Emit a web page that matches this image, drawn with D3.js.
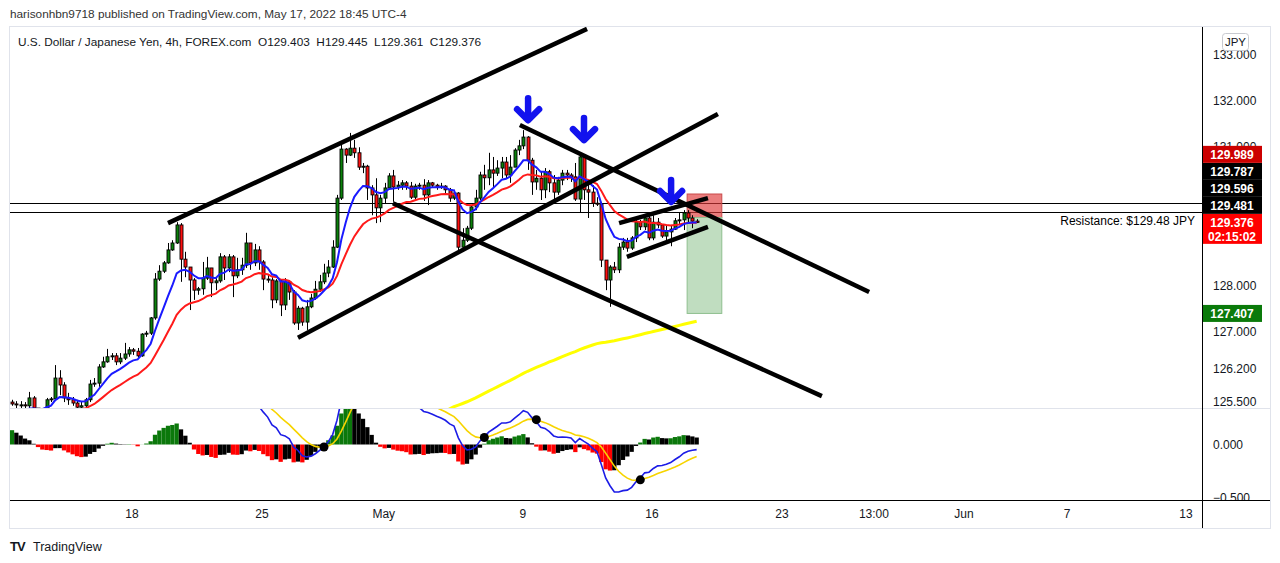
<!DOCTYPE html>
<html><head><meta charset="utf-8">
<script src="https://cdn.jsdelivr.net/npm/d3@7/dist/d3.min.js"></script>
<style>
html,body{margin:0;padding:0;background:#fff;}
svg{display:block;font-family:"Liberation Sans",Arial,sans-serif;}
text{white-space:pre;}
</style></head><body>
<svg id="c" width="1280" height="563"></svg>
<script>
// ---------- data (USD/JPY 4h, FOREX.com) ----------
const firstOpen = 125.49;
const closes = [125.45,125.43,125.43,125.41,125.58,125.36,125.30,125.32,125.54,125.56,
126.01,125.86,125.58,125.54,125.47,125.38,125.41,125.54,125.88,125.90,
126.25,126.36,126.47,126.49,126.36,126.44,126.53,126.62,126.59,126.49,
126.96,126.98,127.31,128.15,128.32,128.50,128.78,128.93,129.32,128.58,
128.41,128.13,127.91,127.94,128.17,128.39,128.07,128.11,128.63,128.39,
128.63,128.22,128.35,128.45,128.93,128.50,128.78,128.52,128.15,128.13,
127.70,128.11,127.59,128.09,127.87,127.20,127.52,127.22,127.55,127.74,
127.93,128.09,128.28,128.41,128.84,129.90,130.96,130.83,130.98,130.88,
130.57,130.59,130.12,129.97,129.69,129.90,130.12,130.38,130.14,130.18,
130.23,130.16,129.92,130.16,130.18,129.97,130.23,130.18,130.14,130.16,
130.08,129.90,130.01,128.84,128.99,129.25,129.71,129.90,130.40,130.34,
130.51,130.44,130.55,130.68,130.40,130.57,130.94,131.03,131.22,130.72,
130.25,130.33,130.08,130.47,130.23,130.03,130.29,130.44,130.40,130.36,
129.88,130.79,130.08,130.03,129.79,129.77,128.56,128.13,128.41,128.35,
128.84,128.95,128.82,129.04,129.38,129.28,129.47,129.04,129.38,129.32,
129.08,129.17,129.23,129.41,129.43,129.58,129.47,129.403,129.376];
const highs = [125.54,125.51,125.51,125.49,125.71,125.62,125.34,125.36,125.58,125.60,
126.29,126.18,125.92,125.69,125.60,125.54,125.51,125.58,125.97,126.01,
126.31,126.47,126.64,126.55,126.55,126.55,126.77,126.68,126.66,126.66,
126.98,127.03,127.33,128.28,128.45,128.54,128.93,128.99,129.38,129.36,
128.74,128.39,128.17,127.98,128.52,128.63,128.39,128.17,128.71,128.67,
128.69,128.67,128.61,128.61,129.15,128.93,128.91,128.86,128.56,128.24,
128.19,128.15,128.15,128.17,128.09,127.91,127.57,127.55,127.70,127.83,
128.11,128.24,128.48,128.56,128.99,129.97,131.05,130.98,131.31,131.16,
131.00,130.66,130.62,130.18,130.33,129.97,130.23,130.44,130.51,130.27,
130.29,130.27,130.25,130.21,130.23,130.31,130.29,130.25,130.21,130.23,
130.18,130.12,130.08,130.03,129.25,129.30,129.75,130.08,130.47,130.62,
130.88,130.79,130.72,130.79,130.79,130.83,130.98,131.16,131.37,131.24,
130.77,130.51,130.47,130.55,130.51,130.40,130.36,130.51,130.51,130.44,
130.66,130.83,130.79,130.29,130.18,129.92,129.82,128.52,128.45,128.52,
128.93,129.04,129.04,129.08,129.49,129.43,129.56,129.53,129.53,129.47,
129.32,129.32,129.32,129.47,129.60,129.64,129.64,129.53,129.445];
const lows = [125.41,125.36,125.34,125.32,125.32,125.28,125.23,125.25,125.30,125.49,
125.54,125.64,125.49,125.43,125.41,125.34,125.32,125.36,125.49,125.82,
125.82,126.23,126.34,126.40,126.29,126.31,126.40,126.47,126.51,126.44,
126.47,126.90,126.94,127.27,128.11,128.28,128.48,128.76,128.91,128.09,
128.19,127.48,127.70,127.81,127.81,128.13,127.76,127.91,128.07,128.13,
128.30,127.76,128.17,128.24,128.39,128.35,128.43,128.35,127.91,128.07,
127.52,127.63,127.35,127.48,127.70,127.16,127.05,127.14,127.05,127.52,
127.70,127.87,128.04,128.19,128.39,128.82,129.86,130.66,130.81,130.77,
130.51,130.44,129.86,129.53,129.36,129.38,129.79,130.08,129.82,130.08,
130.08,130.08,129.88,129.88,130.08,129.84,129.75,130.12,130.08,130.10,
130.01,129.82,129.86,128.69,128.74,128.95,129.21,129.64,129.86,130.08,
130.18,130.14,130.38,130.33,130.33,130.23,130.62,130.83,130.96,130.51,
129.97,130.08,129.86,129.90,130.03,129.86,129.97,130.18,130.29,130.25,
129.84,129.60,129.86,129.47,129.71,129.73,128.41,127.91,127.55,128.28,
128.28,128.78,128.74,128.78,128.95,129.21,129.21,128.99,128.99,129.25,
129.04,128.99,128.86,129.21,129.32,129.21,129.38,129.25,129.361];

// indicator starting values (state before the first visible bar)
const ema9Seed = 125.1, ema21Seed = 124.6, ema200Seed = 119.8;
const macdFastSeed = 124.52, macdSlowSeed = 123.77, signalSeed = 0.6, histSeed = 0.12;

// visible price-scale labels (130.000 and 129.000 are hidden behind price marks in the original)
const priceTicks = [133, 132, 131, 128, 127, 126.2, 125.5];
const macdTicks = [0, -0.5];
const timeTickLabels = ["18", "25", "May", "9", "16", "23", "13:00", "Jun", "7", "13"];
const timeTickBars = [27.7, 57.7, 85.8, 117.9, 147.7, 177.7, 198.9, 219.7, 243.5, 270.9];

const levelLines = [129.787, 129.596];
const markPrices = [129.989, 129.787, 129.596, 129.481, 129.376];
const markColors = ["#cc0000", "#000000", "#000000", "#000000", "#ff0000"];
const countdown = "02:15:02";
const resistancePrice = 129.481;
const entryPrice = 129.481, stopPrice = 129.989, targetPrice = 127.407;
const positionBars = [155.8, 163.8];

// drawn trend lines: [bar1, price1, bar2, price2]
const trendLines = [
  [36.0, 129.36, 132.7, 133.56],
  [66.0, 126.88, 162.9, 131.72],
  [87.9, 129.79, 186.9, 125.62],
  [117.2, 131.48, 197.8, 127.87],
  [140.1, 129.36, 160.6, 129.90],
  [141.9, 128.63, 160.6, 129.28]
];
// down arrows: tip at [bar, price]
const arrowTips = [[119.1, 131.52], [132.0, 131.09], [152.1, 129.75]];

// ---------- layout ----------
const svg = d3.select("#c");
const paneL = 10, paneR = 1202, mainT = 27, mainB = 408, macdB = 500, outerR = 1270, outerB = 528;
const x = d3.scaleLinear().domain([0, 270]).range([12, 12 + 270 * 4.3333]);
const y = d3.scaleLinear().domain([128, 132]).range([286, 101]);
const yM = d3.scaleLinear().domain([-0.5, 0]).range([497.5, 444.5]);

// ---------- indicators ----------
function ema(vals, n, seed) { const k = 2 / (n + 1); let e = seed; return vals.map(v => (e = e + k * (v - e))); }
const opens = closes.map((c, i) => i === 0 ? firstOpen : closes[i - 1]);
const e9 = ema(closes, 9, ema9Seed), e21 = ema(closes, 21, ema21Seed), e200 = ema(closes, 200, ema200Seed);
const m12 = ema(closes, 12, macdFastSeed), m26 = ema(closes, 26, macdSlowSeed);
const macd = m12.map((v, i) => v - m26[i]);
const signal = ema(macd, 9, signalSeed);
const hist = macd.map((v, i) => v - signal[i]);

// ---------- frame ----------
const defs = svg.append("defs");
defs.append("clipPath").attr("id", "mainClip").append("rect").attr("x", paneL).attr("y", mainT).attr("width", paneR - paneL).attr("height", mainB - mainT);
defs.append("clipPath").attr("id", "macdClip").append("rect").attr("x", paneL).attr("y", mainB).attr("width", paneR - paneL).attr("height", macdB - mainB - 1);
defs.append("clipPath").attr("id", "axMainClip").append("rect").attr("x", paneR).attr("y", mainT).attr("width", outerR - paneR).attr("height", mainB - mainT);
defs.append("clipPath").attr("id", "axMacdClip").append("rect").attr("x", paneR).attr("y", mainB).attr("width", outerR - paneR).attr("height", macdB - mainB);

svg.append("text").attr("x", 10).attr("y", 18).attr("font-size", 11.8).attr("fill", "#333")
  .text("harisonhbn9718 published on TradingView.com, May 17, 2022 18:45 UTC-4");
svg.append("rect").attr("x", 9.5).attr("y", 26.5).attr("width", outerR - 9).attr("height", outerB - 26).attr("fill", "#fff").attr("stroke", "#e0e3eb");

const main = svg.append("g").attr("clip-path", "url(#mainClip)");
const mp = svg.append("g").attr("clip-path", "url(#macdClip)");

// level lines
main.selectAll(".lvl").data(levelLines).join("line")
  .attr("x1", paneL).attr("x2", paneR).attr("y1", d => Math.round(y(d)) + 0.5).attr("y2", d => Math.round(y(d)) + 0.5)
  .attr("stroke", "#000").attr("stroke-width", 1);

// position tool
const pX1 = x(positionBars[0]), pX2 = x(positionBars[1]);
main.append("rect").attr("x", pX1).attr("width", pX2 - pX1).attr("y", y(stopPrice)).attr("height", y(entryPrice) - y(stopPrice))
  .attr("fill", "rgba(222,55,55,0.65)").attr("stroke", "#c94a4a").attr("stroke-width", 1);
main.append("rect").attr("x", pX1).attr("width", pX2 - pX1).attr("y", y(entryPrice)).attr("height", y(targetPrice) - y(entryPrice))
  .attr("fill", "rgba(90,165,90,0.38)").attr("stroke", "#8fbf8f").attr("stroke-width", 1);

// EMA 200 (yellow)
main.append("path").datum(e200).attr("fill", "none").attr("stroke", "#ffff00").attr("stroke-width", 3)
  .attr("d", d3.line().x((d, i) => x(i)).y(d => y(d)));

// candles
const cg = main.append("g");
closes.forEach((c, i) => {
  const o = opens[i], h = Math.max(highs[i], o, c), l = Math.min(lows[i], o, c);
  const cx = Math.round(x(i)) + 0.5;
  cg.append("line").attr("x1", cx).attr("x2", cx).attr("y1", y(h)).attr("y2", y(l)).attr("stroke", "#000").attr("stroke-width", 1);
  const top = y(Math.max(o, c)), bot = y(Math.min(o, c));
  cg.append("rect").attr("x", cx - 1.5).attr("width", 3).attr("y", top).attr("height", Math.max(1, bot - top))
    .attr("fill", c >= o ? "#0b820b" : "#ff1010").attr("stroke", "#000").attr("stroke-width", 0.9);
});

// EMAs
main.append("path").datum(e21).attr("fill", "none").attr("stroke", "#ff1a1a").attr("stroke-width", 2)
  .attr("d", d3.line().x((d, i) => x(i)).y(d => y(d)));
main.append("path").datum(e9).attr("fill", "none").attr("stroke", "#1a1aff").attr("stroke-width", 2)
  .attr("d", d3.line().x((d, i) => x(i)).y(d => y(d)));

// trend lines
main.selectAll(".tl").data(trendLines).join("line")
  .attr("x1", d => x(d[0])).attr("y1", d => y(d[1])).attr("x2", d => x(d[2])).attr("y2", d => y(d[3]))
  .attr("stroke", "#000").attr("stroke-width", 4.5).attr("stroke-linecap", "butt");

// arrows
arrowTips.forEach(a => {
  const tx = x(a[0]), ty = y(a[1]);
  const g = main.append("g").attr("transform", `translate(${tx},${ty})`)
    .attr("stroke", "#1212ee").attr("stroke-width", 6.5).attr("stroke-linecap", "round").attr("stroke-linejoin", "round").attr("fill", "none");
  g.append("line").attr("x1", 0).attr("y1", -25).attr("x2", 0).attr("y2", -4);
  g.append("path").attr("d", "M-11,-14 L0,-3 L11,-14");
});

// resistance text
main.append("text").attr("x", 1195).attr("y", y(resistancePrice) + 7).attr("text-anchor", "end")
  .attr("font-size", 12).attr("fill", "#000").text("Resistance: $129.48 JPY");

// legend
svg.append("text").attr("x", 18).attr("y", 46).attr("font-size", 11.8).attr("fill", "#131722")
  .text("U.S. Dollar / Japanese Yen, 4h, FOREX.com  O129.403  H129.445  L129.361  C129.376");

// ---------- MACD pane ----------
mp.selectAll(".h").data(hist).join("rect")
  .attr("x", (d, i) => x(i) - 2.15).attr("width", 4.3)
  .attr("y", d => Math.min(yM(0), yM(d))).attr("height", d => Math.abs(yM(d) - yM(0)))
  .attr("fill", (d, i) => {
    const p = i > 0 ? hist[i - 1] : histSeed;
    if (d >= 0) return d > p ? "#0b780b" : "#000";
    return d < p ? "#ff0000" : "#000";
  });
mp.append("path").datum(signal).attr("fill", "none").attr("stroke", "#f7d400").attr("stroke-width", 1.6)
  .attr("d", d3.line().x((d, i) => x(i)).y(d => yM(d)));
mp.append("path").datum(macd).attr("fill", "none").attr("stroke", "#1c1ce6").attr("stroke-width", 1.6)
  .attr("d", d3.line().x((d, i) => x(i)).y(d => yM(d)));
const crosses = hist.map((d, i) => i > 0 && Math.sign(d) !== Math.sign(hist[i - 1]) ? i : -1).filter(i => i >= 0);
mp.selectAll(".dot").data(crosses).join("circle").attr("cx", i => x(i)).attr("cy", i => yM(signal[i])).attr("r", 4.5).attr("fill", "#000");

// ---------- separators & axes ----------
svg.append("line").attr("x1", paneL).attr("x2", outerR).attr("y1", mainB + 0.5).attr("y2", mainB + 0.5).attr("stroke", "#e0e3eb");
svg.append("line").attr("x1", paneL).attr("x2", outerR).attr("y1", macdB + 0.5).attr("y2", macdB + 0.5).attr("stroke", "#000");
svg.append("line").attr("x1", paneR + 0.5).attr("x2", paneR + 0.5).attr("y1", mainT).attr("y2", outerB).attr("stroke", "#000");

const axM = svg.append("g").attr("clip-path", "url(#axMainClip)");
axM.selectAll(".pt").data(priceTicks).join("text").attr("x", 1213).attr("y", d => y(d)).attr("dy", "0.35em")
  .attr("font-size", 12).attr("fill", "#131722").text(d => d3.format(".3f")(d));
svg.append("g").attr("clip-path", "url(#axMacdClip)").selectAll(".mt").data(macdTicks).join("text")
  .attr("x", 1213).attr("y", d => yM(d)).attr("dy", "0.35em").attr("font-size", 12).attr("fill", "#131722")
  .text(d => d3.format(".3f")(d).replace("-", "\u2212"));

// JPY button
svg.append("rect").attr("x", 1222.5).attr("y", 33.5).attr("width", 26).attr("height", 17).attr("rx", 3).attr("fill", "#fff").attr("stroke", "#c8cad0");
svg.append("text").attr("x", 1235.5).attr("y", 42).attr("dy", "0.35em").attr("text-anchor", "middle").attr("font-size", 11.5).attr("fill", "#131722").text("JPY");

// stacked price labels
const lblH = 17;
let prevTop = Infinity;
const order = markPrices.map((p, i) => i).sort((a, b) => markPrices[a] - markPrices[b]);
order.forEach(i => {
  const p = markPrices[i], isLast = i === markPrices.length - 1;
  const h = isLast ? 30 : lblH;
  let cy = y(p);
  if (cy + lblH / 2 > prevTop) cy = prevTop - lblH / 2;
  const top = cy - lblH / 2;
  prevTop = top;
  svg.append("rect").attr("x", paneR + 1).attr("y", top).attr("width", 59).attr("height", h).attr("fill", markColors[i]);
  svg.append("text").attr("x", 1232).attr("y", cy).attr("dy", "0.35em").attr("text-anchor", "middle").attr("font-size", 12).attr("font-weight", "bold").attr("fill", "#fff").text(d3.format(".3f")(p));
  if (isLast) svg.append("text").attr("x", 1232).attr("y", cy + 14).attr("dy", "0.35em").attr("text-anchor", "middle").attr("font-size", 12).attr("font-weight", "bold").attr("fill", "#fff").text(countdown);
});
svg.append("rect").attr("x", paneR + 1).attr("y", y(targetPrice) - lblH / 2).attr("width", 59).attr("height", lblH).attr("fill", "#0a7a0a");
svg.append("text").attr("x", 1232).attr("y", y(targetPrice)).attr("dy", "0.35em").attr("text-anchor", "middle").attr("font-size", 12).attr("font-weight", "bold").attr("fill", "#fff").text(d3.format(".3f")(targetPrice));

// time axis
svg.selectAll(".tt").data(timeTickBars).join("text").attr("x", d => x(d)).attr("y", 514).attr("dy", "0.35em")
  .attr("text-anchor", "middle").attr("font-size", 12).attr("fill", "#131722").text((d, i) => timeTickLabels[i]);

// footer
svg.append("text").attr("x", 10).attr("y", 551).attr("font-size", 13).attr("font-weight", "900").attr("fill", "#131722").attr("letter-spacing", -1).text("TV");
svg.append("text").attr("x", 33).attr("y", 551).attr("font-size", 12.5).attr("fill", "#131722").text("TradingView");
</script>
</body></html>
